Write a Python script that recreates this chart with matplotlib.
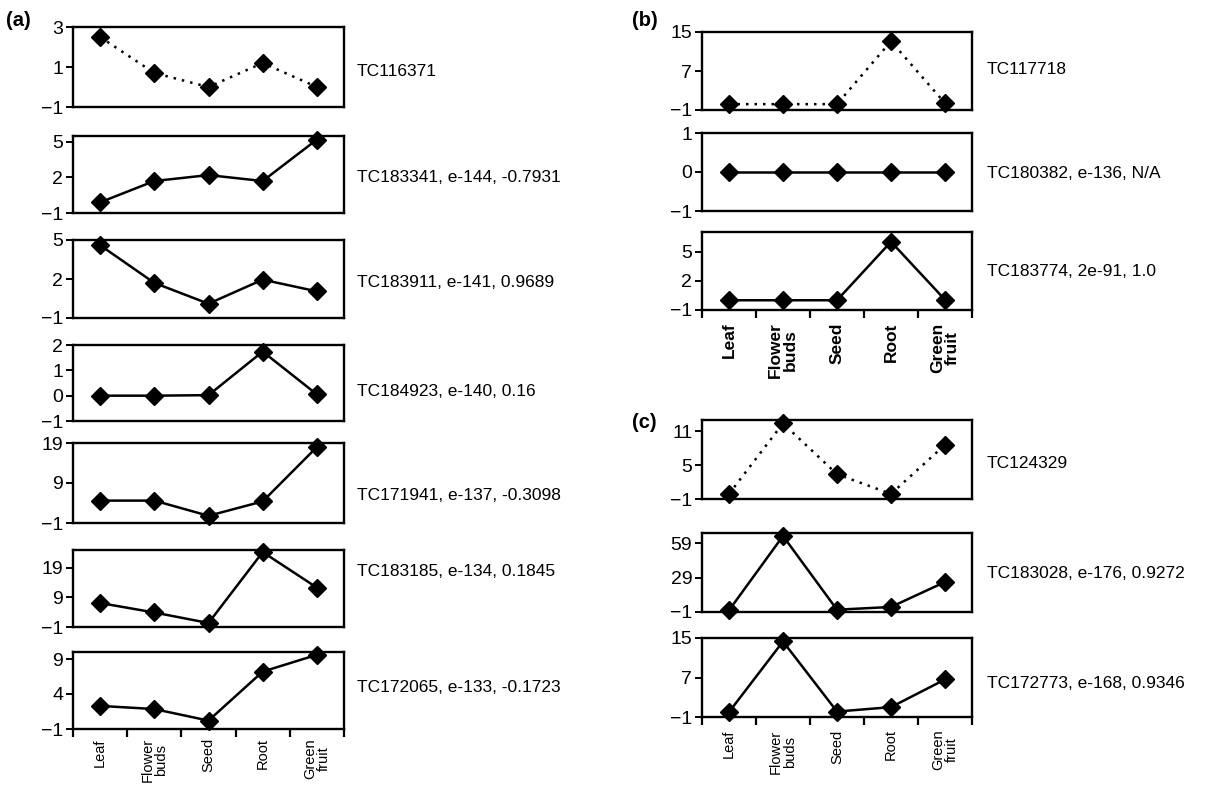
import numpy as np
import matplotlib.pyplot as plt

plt.rcParams['font.family'] = ['Liberation Sans', 'DejaVu Sans']

# Tissues on the x axis
tissues = ["Leaf", "Flower\nbuds", "Seed", "Root", "Green\nfruit"]

# Panel (a) expression profiles
tc116371 = [2.5, 0.7, 0.0, 1.2, 0.0]
tc183341 = [-0.1, 1.7, 2.2, 1.7, 5.2]
tc183911 = [4.6, 1.7, 0.1, 1.95, 1.05]
tc184923 = [0.0, 0.0, 0.02, 1.74, 0.05]
tc171941 = [4.6, 4.6, 0.8, 4.4, 18.0]
tc183185 = [7.1, 3.9, 0.35, 24.3, 12.3]
tc172065 = [2.3, 1.85, 0.2, 7.2, 9.6]

# Panel (b)
tc117718 = [0.2, 0.2, 0.2, 13.1, 0.4]
tc180382 = [0.0, 0.0, 0.0, 0.0, 0.0]
tc183774 = [0.0, 0.0, 0.0, 6.0, 0.05]

# Panel (c)
tc124329 = [-0.1, 12.4, 3.4, -0.1, 8.6]
tc183028 = [0.5, 65.4, 1.0, 3.4, 25.2]
tc172773 = [0.0, 14.3, 0.1, 1.0, 6.6]

# Row labels
labels_a = ["TC116371", "TC183341, e-144, -0.7931", "TC183911, e-141, 0.9689",
            "TC184923, e-140, 0.16", "TC171941, e-137, -0.3098",
            "TC183185, e-134, 0.1845", "TC172065, e-133, -0.1723"]
labels_b = ["TC117718", "TC180382, e-136, N/A", "TC183774, 2e-91, 1.0"]
labels_c = ["TC124329", "TC183028, e-176, 0.9272", "TC172773, e-168, 0.9346"]

# Axis ranges and ticks, one per row
ylims_a = [(-1, 3), (-1, 5.5), (-1, 5), (-1, 2), (-1, 19), (-1, 25), (-1, 10)]
yticks_a = [[-1, 1, 3], [-1, 2, 5], [-1, 2, 5], [-1, 0, 1, 2], [-1, 9, 19],
            [-1, 9, 19], [-1, 4, 9]]
ylims_b = [(-1, 15), (-1, 1), (-1, 7)]
yticks_b = [[-1, 7, 15], [-1, 0, 1], [-1, 2, 5]]
ylims_c = [(-1, 13), (-1, 68), (-1, 15)]
yticks_c = [[-1, 5, 11], [-1, 29, 59], [-1, 7, 15]]

# Which rows use a dotted line (the query TC)
dotted_a = [True] + [False] * 6
dotted_b = [True, False, False]
dotted_c = [True, False, False]

# Layout in pixels: (top, bottom) of each row, label y
W, H = 1223, 785
x_a = (73, 344)
x_bc = (702, 972)
rows_a = [(27, 107), (136, 213), (240, 318), (345, 421), (443, 523),
          (550, 627), (652, 729)]
rows_b = [(32, 110), (133, 211), (232, 310)]
rows_c = [(420, 499), (533, 612), (638, 717)]
laby_a = [72, 177, 283, 392, 495, 571, 687]
laby_b = [70, 174, 272]
laby_c = [464, 574, 683]

fig = plt.figure(figsize=(W / 100, H / 100), dpi=100)


def fmt(v):
    return str(v).replace("-", "\u2212")


def add_axes_px(xr, yr):
    left, right = xr
    top, bottom = yr
    return fig.add_axes([left / W, 1 - bottom / H, (right - left) / W,
                         (bottom - top) / H])


def draw_row(ax, values, ylim, yticks, dotted):
    x = np.arange(len(tissues))
    if dotted:
        ax.plot(x, values, color="black", lw=1.8, ls=(0, (1, 2.4)),
                clip_on=False, zorder=2)
    else:
        ax.plot(x, values, color="black", lw=1.8, clip_on=False, zorder=2)
    ax.plot(x, values, ls="none", marker="D", ms=9, color="black",
            clip_on=False, zorder=3)
    ax.set_xlim(-0.5, len(tissues) - 0.5)
    ax.set_ylim(*ylim)
    ax.set_yticks(yticks)
    ax.set_yticklabels([fmt(t) for t in yticks], fontsize=14)
    ax.tick_params(axis="y", direction="out", length=5, width=1.4, pad=2)
    ax.set_xticks([])
    for sp in ax.spines.values():
        sp.set_linewidth(1.7)


def bottom_axis(ax, bold, pad):
    n = len(tissues)
    ax.set_xticks(np.arange(n + 1) - 0.5)
    ax.set_xticklabels([])
    ax.tick_params(axis="x", which="major", direction="out", length=6,
                   width=1.6)
    ax.set_xticks(np.arange(n), minor=True)
    if bold:
        ax.set_xticklabels(tissues, minor=True, rotation=90, fontsize=12.5,
                           fontweight="bold", linespacing=1.0)
    else:
        ax.set_xticklabels(tissues, minor=True, rotation=90, fontsize=10.5,
                           linespacing=1.0)
    ax.tick_params(axis="x", which="minor", length=0, pad=pad)


def draw_panel(xr, rows, series, ylims, yticks, dotted, labels, laby,
               label_x, bold, pad):
    axes = []
    for i, yr in enumerate(rows):
        ax = add_axes_px(xr, yr)
        draw_row(ax, series[i], ylims[i], yticks[i], dotted[i])
        fig.text(label_x / W, 1 - laby[i] / H, labels[i], fontsize=12.5,
                 ha="left", va="center")
        axes.append(ax)
    bottom_axis(axes[-1], bold, pad)
    return axes


draw_panel(x_a, rows_a,
           [tc116371, tc183341, tc183911, tc184923, tc171941, tc183185,
            tc172065],
           ylims_a, yticks_a, dotted_a, labels_a, laby_a, 357, False, 6.5)
draw_panel(x_bc, rows_b, [tc117718, tc180382, tc183774],
           ylims_b, yticks_b, dotted_b, labels_b, laby_b, 987, True, 9)
draw_panel(x_bc, rows_c, [tc124329, tc183028, tc172773],
           ylims_c, yticks_c, dotted_c, labels_c, laby_c, 987, False, 9)

# Panel letters
fig.text(6 / W, 1 - 20 / H, "(a)", fontsize=14.5, fontweight="bold",
         ha="left", va="center")
fig.text(632 / W, 1 - 20 / H, "(b)", fontsize=14.5, fontweight="bold",
         ha="left", va="center")
fig.text(632 / W, 1 - 422 / H, "(c)", fontsize=14.5, fontweight="bold",
         ha="left", va="center")

fig.savefig("out.png", dpi=100, facecolor="white")
